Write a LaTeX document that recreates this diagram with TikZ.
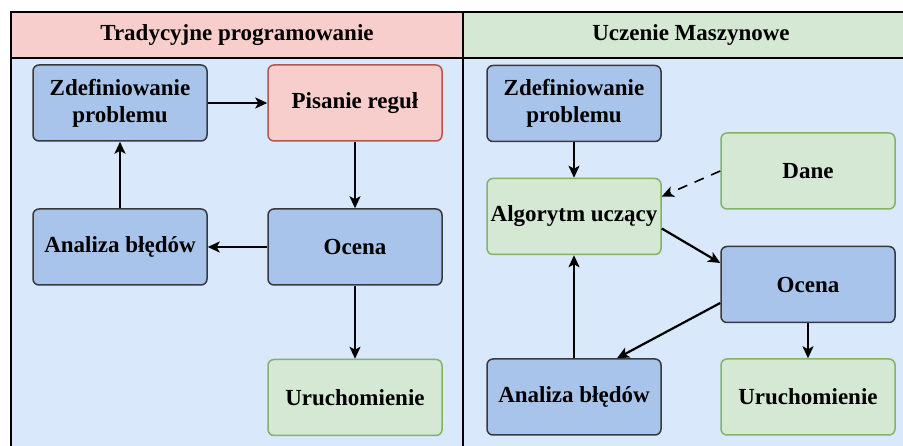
\documentclass[tikz,border=0pt]{standalone}
\usepackage{fontspec}
\setmainfont{Liberation Serif}
\usetikzlibrary{arrows.meta}
\definecolor{panelbg}{HTML}{DAE8FC}
\definecolor{bluefill}{HTML}{A9C4EB}
\definecolor{blueline}{HTML}{36393D}
\definecolor{greenfill}{HTML}{D5E8D4}
\definecolor{greenline}{HTML}{82B366}
\definecolor{redfill}{HTML}{F8CECC}
\definecolor{redline}{HTML}{B85450}
\tikzset{
  box/.style={rounded corners=6pt, line width=1.5pt, minimum width=174pt,
    minimum height=76pt, align=center, font=\fontsize{23}{27}\selectfont\bfseries,
    inner sep=0pt},
  bluebox/.style={box, fill=bluefill, draw=blueline},
  greenbox/.style={box, fill=greenfill, draw=greenline},
  redbox/.style={box, fill=redfill, draw=redline},
  flow/.style={line width=2.2pt, -{Stealth[length=12pt,width=11pt,inset=3pt]}},
  heading/.style={font=\fontsize{23}{27}\selectfont\bfseries},
}
\begin{document}
\begin{tikzpicture}[x=1pt,y=-1pt]
\useasboundingbox (0,0) rectangle (903,446);
\begin{scope}
\clip (0,0) rectangle (903,446);
% panel backgrounds
\fill[panelbg] (11,58) rectangle (920,460);
\fill[redfill] (11,12) rectangle (463,58);
\fill[greenfill] (463,12) rectangle (920,58);
% frame lines
\draw[line width=2.8pt] (11,460) -- (11,12) -- (920,12);
\draw[line width=2.8pt] (11,58) -- (920,58);
\draw[line width=2.8pt] (463,12) -- (463,460);
\end{scope}
\node[heading] (hL) at (237,35) {Tradycyjne programowanie};
\node[heading] (hR) at (691,35) {Uczenie Maszynowe};

% traditional programming
\node[bluebox]  (zL) at (120,103) {Zdefiniowanie\\problemu};
\node[redbox]   (pL) at (355,103) {Pisanie reguł};
\node[bluebox]  (aL) at (120,247) {Analiza błędów};
\node[bluebox]  (oL) at (355,247) {Ocena};
\node[greenbox] (uL) at (355,397.5) {Uruchomienie};

\draw[flow] (zL.east) -- (pL.west);
\draw[flow] (pL.south) -- (oL.north);
\draw[flow] (oL.west) -- (aL.east);
\draw[flow] (aL.north) -- (zL.south);
\draw[flow] (oL.south) -- (uL.north);

% machine learning
\node[bluebox]  (zR) at (574,103.5) {Zdefiniowanie\\problemu};
\node[greenbox] (dR) at (808,171) {Dane};
\node[greenbox] (gR) at (574,216.5) {Algorytm uczący};
\node[bluebox]  (oR) at (808,284.5) {Ocena};
\node[bluebox]  (aR) at (574,397) {Analiza błędów};
\node[greenbox] (uR) at (808,397) {Uruchomienie};

\draw[flow] (zR.south) -- (gR.north);
\draw[flow, line width=1.6pt, dash pattern=on 10pt off 8pt] (dR.west) -- ([yshift=20pt]gR.east);
\draw[flow] ([yshift=-12pt]gR.east) -- ([yshift=21.5pt]oR.west);
\draw[flow] ([yshift=-18.5pt]oR.west) -- ([xshift=43pt]aR.north);
\draw[flow] (aR.north) -- (gR.south);
\draw[flow] (oR.south) -- (uR.north);
\end{tikzpicture}
\end{document}
